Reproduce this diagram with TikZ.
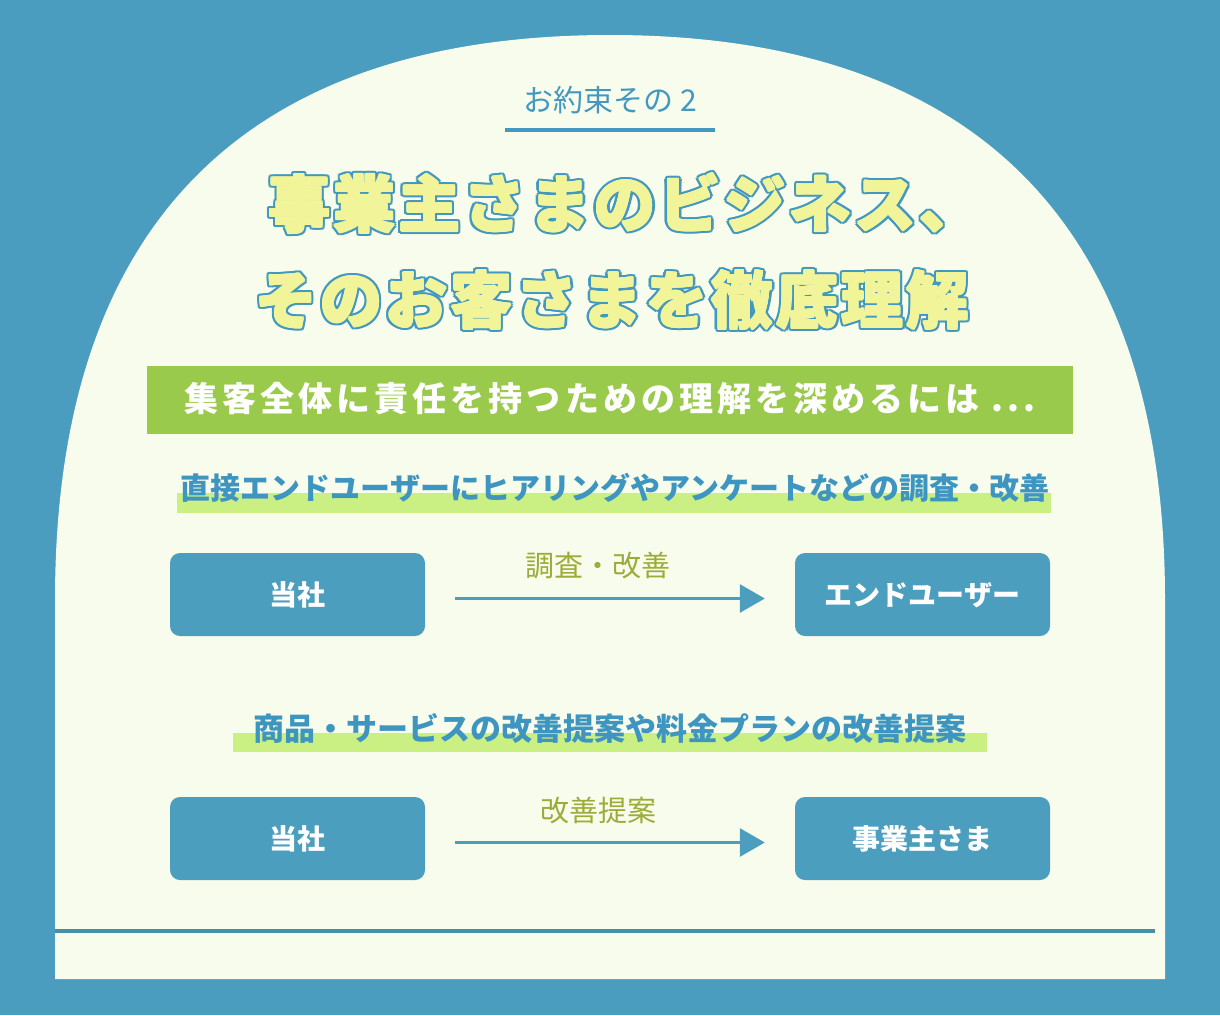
\documentclass[tikz,border=0pt]{standalone}
\usepackage{fontspec}
\usetikzlibrary{arrows.meta,calc}
\newfontfamily\jp{Noto Sans CJK JP}
\newfontfamily\jpwide{Noto Sans CJK JP}[LetterSpace=12]
\newfontfamily\jpsemi{Noto Sans CJK JP}[LetterSpace=5]
\definecolor{bgblue}{RGB}{74,157,191}
\definecolor{cream}{RGB}{248,252,236}
\definecolor{bandgreen}{RGB}{154,202,76}
\definecolor{hilite}{RGB}{202,240,132}
\definecolor{tyellow}{RGB}{241,244,152}
\definecolor{tblue}{RGB}{66,152,190}
\definecolor{subblue}{RGB}{62,150,192}
\definecolor{boxblue}{RGB}{75,158,190}
\definecolor{lineblue}{RGB}{66,145,168}
\definecolor{olive}{RGB}{157,172,56}
\tikzset{
  ttl/.style={font=\jpsemi\bfseries\fontsize{62}{62}\selectfont, anchor=base, inner sep=0pt},
  subhead/.style={font=\jp\bfseries\fontsize{30}{30}\selectfont, text=subblue, anchor=base, inner sep=0pt},
  arrowlabel/.style={font=\jp\fontsize{29}{29}\selectfont, text=olive, anchor=base, inner sep=0pt},
  bluebox/.style={fill=boxblue, rounded corners=10pt, minimum width=255pt, minimum height=83pt,
    inner sep=0pt, text=white, font=\jp\bfseries\fontsize{28}{28}\selectfont,
    text height=23pt, text depth=2pt},
  flowarrow/.style={draw=boxblue, line width=3pt, -{Triangle[length=25pt,width=28pt]},
    shorten <=30pt, shorten >=30pt}
}
\begin{document}
\begin{tikzpicture}[x=1pt,y=-1pt]
\useasboundingbox (0,0) rectangle (1220,1015);
% background
\fill[bgblue] (0,0) rectangle (1220,1015);
% cream arch
\fill[cream] (55,979) -- (55,600) .. controls (55,200) and (270,35) .. (610,35)
  .. controls (950,35) and (1165,200) .. (1165,600) -- (1165,979) -- cycle;
% header
\node[font=\jp\fontsize{30}{30}\selectfont, text=tblue, anchor=base, inner sep=0pt] (hdr) at (610,111) {お約束その 2};
\coordinate (ulA) at (505,130);
\coordinate (ulB) at (715,130);
\draw[tblue, line width=4pt] (ulA) -- (ulB);
% title line 1 (outlined)
\foreach \a in {0,30,...,330} {
  \node[ttl, text=tblue] (t1o\a) at ($(625,227.5)+(\a:3.2)$) {事業主さまのビジネス、};
}
\foreach \a in {0,45,...,315} {
  \node[ttl, text=tyellow] (t1f\a) at ($(625,227.5)+(\a:0.8)$) {事業主さまのビジネス、};
}
\node[ttl, text=tyellow] (t1) at (625,227.5) {事業主さまのビジネス、};
% title line 2 (outlined)
\foreach \a in {0,30,...,330} {
  \node[ttl, text=tblue] (t2o\a) at ($(612,323.5)+(\a:3.2)$) {そのお客さまを徹底理解};
}
\foreach \a in {0,45,...,315} {
  \node[ttl, text=tyellow] (t2f\a) at ($(612,323.5)+(\a:0.8)$) {そのお客さまを徹底理解};
}
\node[ttl, text=tyellow] (t2) at (612,323.5) {そのお客さまを徹底理解};
% green band
\fill[bandgreen] (147,366) rectangle (1073,434);
\node[font=\jpwide\bfseries\fontsize{34}{34}\selectfont, text=white, anchor=base, inner sep=0pt] (band) at (610,411) {集客全体に責任を持つための理解を深めるには ...};
% subheading 1
\fill[hilite] (177,493) rectangle (1051,513);
\node[subhead] (sub1) at (615,499.5) {直接エンドユーザーにヒアリングやアンケートなどの調査・改善};
% row 1
\node[bluebox] (b1) at (297.5,594.5) {当社\hspace{14pt}};
\node[bluebox] (b2) at (922.5,594.5) {エンドユーザー};
\draw[flowarrow] ([yshift=-4pt]b1.east) -- ([yshift=-4pt]b2.west);
\node[arrowlabel] (l1) at (598,576) {調査・改善};
% subheading 2
\fill[hilite] (233,733) rectangle (987,752);
\node[subhead, font=\jp\bfseries\fontsize{31}{31}\selectfont] (sub2) at (610,740) {商品・サービスの改善提案や料金プランの改善提案};
% row 2
\node[bluebox] (b3) at (297.5,838.5) {当社\hspace{14pt}};
\node[bluebox] (b4) at (922.5,838.5) {事業主さま};
\draw[flowarrow] ([yshift=-4pt]b3.east) -- ([yshift=-4pt]b4.west);
\node[arrowlabel] (l2) at (598,821) {改善提案};
% bottom line
\coordinate (blA) at (55,931);
\coordinate (blB) at (1155,931);
\draw[lineblue, line width=4pt] (blA) -- (blB);
\end{tikzpicture}
\end{document}
